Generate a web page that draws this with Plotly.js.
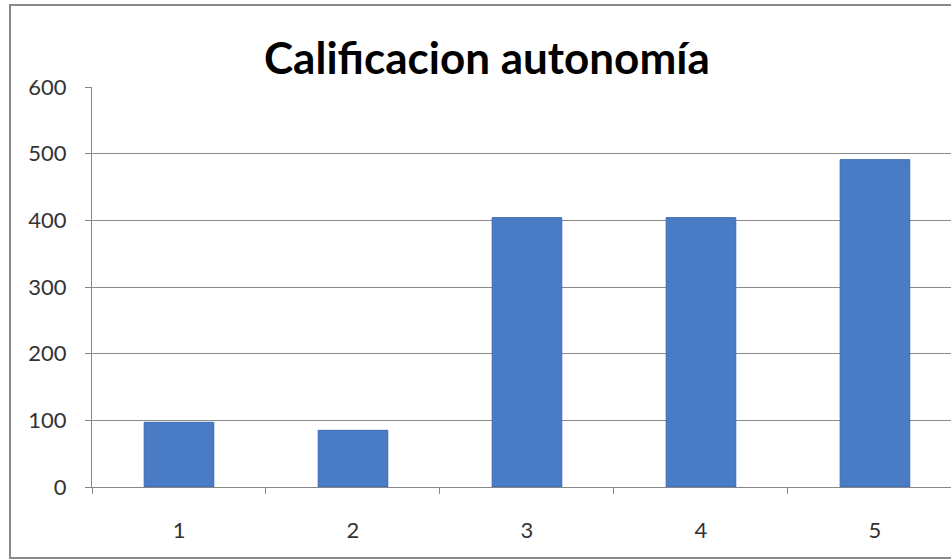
<!DOCTYPE html>
<html>
<head>
<meta charset="utf-8">
<script src="https://cdn.plot.ly/plotly-3.0.1.min.js"></script>
<style>
  html, body { margin: 0; padding: 0; background: #ffffff; overflow: hidden; }
  #frame { position: absolute; left: 9px; top: 4px; width: 960px; height: 551px; border: 2px solid #8a8a8a; pointer-events: none; }
  #chart { position: absolute; left: 0; top: 0; width: 951px; height: 559px; }
</style>
</head>
<body>
<div id="chart"></div>
<div id="frame"></div>
<script>
const categories = ["1", "2", "3", "4", "5"];
const values = [97, 85, 404, 404, 491];
const yTicks = [0, 100, 200, 300, 400, 500, 600];
const titleText = "Calificacion autonomía";

const trace = {
  type: "bar",
  x: categories,
  y: values,
  width: 0.4,
  marker: { color: "#4a7cc6", line: { color: "#3c68b2", width: 1 } },
  hoverinfo: "x+y"
};

const layout = {
  width: 951,
  height: 559,
  margin: { l: 92, r: 0, t: 87, b: 72 },
  paper_bgcolor: "#ffffff",
  plot_bgcolor: "#ffffff",
  showlegend: false,
  title: {
    text: "<b>" + titleText + "</b>",
    font: { family: "Lato, 'Open Sans', sans-serif", size: 44, color: "#000000" },
    xref: "container", x: 0.512, xanchor: "center",
    yref: "container", y: 0.895, yanchor: "middle"
  },
  xaxis: {
    type: "category",
    range: [-0.5, 4.437],
    tickson: "boundaries",
    ticks: "outside",
    ticklen: 6,
    tickcolor: "#868686",
    showline: true,
    linecolor: "#868686",
    linewidth: 1,
    showgrid: false,
    zeroline: false,
    ticklabelstandoff: 24,
    tickfont: { family: "Lato, 'Open Sans', sans-serif", size: 22, color: "#333333" }
  },
  yaxis: {
    range: [0, 600],
    tickvals: yTicks,
    ticktext: yTicks.map(String),
    ticks: "outside",
    ticklen: 6,
    tickcolor: "#868686",
    showline: true,
    linecolor: "#868686",
    linewidth: 1,
    showgrid: true,
    gridcolor: "#8a8a8a",
    gridwidth: 1,
    zeroline: false,
    ticklabelstandoff: 14,
    tickfont: { family: "Lato, 'Open Sans', sans-serif", size: 22, color: "#333333" }
  },
  bargap: 0.6
};

Plotly.newPlot("chart", [trace], layout, { displayModeBar: false, staticPlot: true });
</script>
</body>
</html>
